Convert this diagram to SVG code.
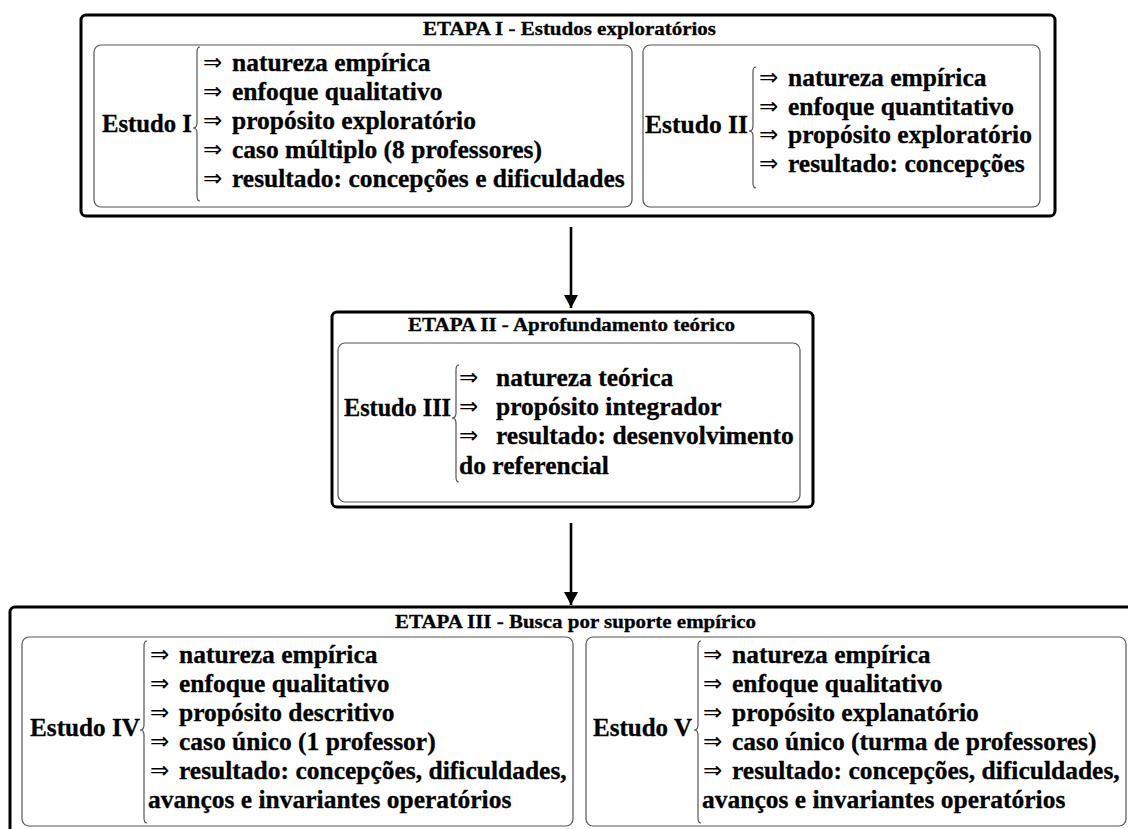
<svg xmlns="http://www.w3.org/2000/svg" width="1128" height="829" viewBox="0 0 1128 829">
<style>
  .outer{fill:#fff;stroke:#000;stroke-width:3}
  .inner{fill:#fff;stroke:#555;stroke-width:1.2}
  .brace{fill:none;stroke:#444;stroke-width:1.1}
  .title{font-family:"Liberation Serif","Times New Roman",serif;font-weight:bold;font-size:19px;fill:#000;stroke:#000;stroke-width:0.3}
  .t{font-family:"Liberation Serif","Times New Roman",serif;font-weight:bold;font-size:25.5px;fill:#000;stroke:#000;stroke-width:0.3}
  .lab{font-family:"Liberation Serif","Times New Roman",serif;font-weight:bold;font-size:25.5px;fill:#000;stroke:#000;stroke-width:0.3}
  .ar{font-family:"DejaVu Sans",sans-serif;font-weight:normal;font-size:23px;fill:#000}
  .conn{stroke:#000;stroke-width:2.6;fill:none}
</style>
<defs>
  <marker id="ah" markerUnits="userSpaceOnUse" markerWidth="14" markerHeight="14" refX="13" refY="7" orient="auto">
    <path d="M0,0 L13,7 L0,14 Z" fill="#000"/>
  </marker>
</defs>
<rect width="1128" height="829" fill="#fff"/>

<g id="etapa1">
  <rect class="outer" x="81" y="15" width="974" height="201" rx="5"/>
  <text class="title" x="569.5" y="35" text-anchor="middle" textLength="293" lengthAdjust="spacingAndGlyphs">ETAPA I - Estudos exploratórios</text>
</g>
<g id="estudo1">
  <rect class="inner" x="94" y="45" width="538" height="162" rx="7"/>
  <text class="lab" x="102" y="132" textLength="90" lengthAdjust="spacingAndGlyphs">Estudo I</text>
  <path class="brace" d="M200,47 Q197,47 197,52 L197,123 Q197,128 193,128 Q197,128 197,133 L197,196 Q197,201 200,201"/>
  <text class="ar" x="203" y="70">⇒</text>
  <text class="t" x="232" y="71">natureza empírica</text>
  <text class="ar" x="203" y="99">⇒</text>
  <text class="t" x="232" y="100">enfoque qualitativo</text>
  <text class="ar" x="203" y="128">⇒</text>
  <text class="t" x="232" y="129">propósito exploratório</text>
  <text class="ar" x="203" y="157">⇒</text>
  <text class="t" x="232" y="158">caso múltiplo (8 professores)</text>
  <text class="ar" x="203" y="186">⇒</text>
  <text class="t" x="232" y="187">resultado: concepções e dificuldades</text>
</g>
<g id="estudo2">
  <rect class="inner" x="643" y="45" width="397" height="162" rx="7"/>
  <text class="lab" x="645" y="133" textLength="103" lengthAdjust="spacingAndGlyphs">Estudo II</text>
  <path class="brace" d="M756,67 Q753,67 753,72 L753,126 Q753,131 749,131 Q753,131 753,136 L753,183 Q753,188 756,188"/>
  <text class="ar" x="759" y="85">⇒</text>
  <text class="t" x="788" y="86">natureza empírica</text>
  <text class="ar" x="759" y="113.5">⇒</text>
  <text class="t" x="788" y="114.5">enfoque quantitativo</text>
  <text class="ar" x="759" y="142">⇒</text>
  <text class="t" x="788" y="143">propósito exploratório</text>
  <text class="ar" x="759" y="170.5">⇒</text>
  <text class="t" x="788" y="171.5">resultado: concepções</text>
</g>

<g id="etapa2">
  <rect class="outer" x="332" y="312" width="481" height="195" rx="5"/>
  <text class="title" x="571.5" y="331" text-anchor="middle" textLength="327" lengthAdjust="spacingAndGlyphs">ETAPA II - Aprofundamento teórico</text>
</g>
<g id="estudo3">
  <rect class="inner" x="338" y="343" width="462" height="159" rx="7"/>
  <text class="lab" x="344" y="416" textLength="107" lengthAdjust="spacingAndGlyphs">Estudo III</text>
  <path class="brace" d="M459,365 Q456,365 456,370 L456,413 Q456,418 452,418 Q456,418 456,423 L456,477 Q456,482 459,482"/>
  <text class="ar" x="459" y="385">⇒</text>
  <text class="t" x="496" y="386">natureza teórica</text>
  <text class="ar" x="459" y="414">⇒</text>
  <text class="t" x="496" y="415">propósito integrador</text>
  <text class="ar" x="459" y="443">⇒</text>
  <text class="t" x="496" y="444">resultado: desenvolvimento</text>
  <text class="t" x="459" y="474">do referencial</text>
</g>

<g id="etapa3">
  <rect class="outer" x="10" y="607" width="1140" height="260" rx="5"/>
  <text class="title" x="575.5" y="628" text-anchor="middle" textLength="361" lengthAdjust="spacingAndGlyphs">ETAPA III - Busca por suporte empírico</text>
</g>
<g id="estudo4">
  <rect class="inner" x="22" y="637" width="551" height="189" rx="7"/>
  <text class="lab" x="30" y="736" textLength="110" lengthAdjust="spacingAndGlyphs">Estudo IV</text>
  <path class="brace" d="M147,641 Q144,641 144,646 L144,725 Q144,730 140,730 Q144,730 144,735 L144,818 Q144,823 147,823"/>
  <text class="ar" x="150" y="662">⇒</text>
  <text class="t" x="179" y="663">natureza empírica</text>
  <text class="ar" x="150" y="691">⇒</text>
  <text class="t" x="179" y="692">enfoque qualitativo</text>
  <text class="ar" x="150" y="720">⇒</text>
  <text class="t" x="179" y="721">propósito descritivo</text>
  <text class="ar" x="150" y="749">⇒</text>
  <text class="t" x="179" y="750">caso único (1 professor)</text>
  <text class="ar" x="150" y="778">⇒</text>
  <text class="t" x="179" y="779">resultado: concepções, dificuldades,</text>
  <text class="t" x="148" y="808">avanços e invariantes operatórios</text>
</g>
<g id="estudo5">
  <rect class="inner" x="586" y="637" width="540" height="189" rx="7"/>
  <text class="lab" x="593" y="736" textLength="99" lengthAdjust="spacingAndGlyphs">Estudo V</text>
  <path class="brace" d="M701,641 Q698,641 698,646 L698,725 Q698,730 694,730 Q698,730 698,735 L698,818 Q698,823 701,823"/>
  <text class="ar" x="703" y="662">⇒</text>
  <text class="t" x="732" y="663">natureza empírica</text>
  <text class="ar" x="703" y="691">⇒</text>
  <text class="t" x="732" y="692">enfoque qualitativo</text>
  <text class="ar" x="703" y="720">⇒</text>
  <text class="t" x="732" y="721">propósito explanatório</text>
  <text class="ar" x="703" y="749">⇒</text>
  <text class="t" x="732" y="750">caso único (turma de professores)</text>
  <text class="ar" x="703" y="778">⇒</text>
  <text class="t" x="732" y="779">resultado: concepções, dificuldades,</text>
  <text class="t" x="702" y="808">avanços e invariantes operatórios</text>
</g>

<g id="connectors">
  <line class="conn" x1="571" y1="227" x2="571" y2="308" marker-end="url(#ah)"/>
  <line class="conn" x1="571" y1="523" x2="571" y2="605" marker-end="url(#ah)"/>
</g>
</svg>
